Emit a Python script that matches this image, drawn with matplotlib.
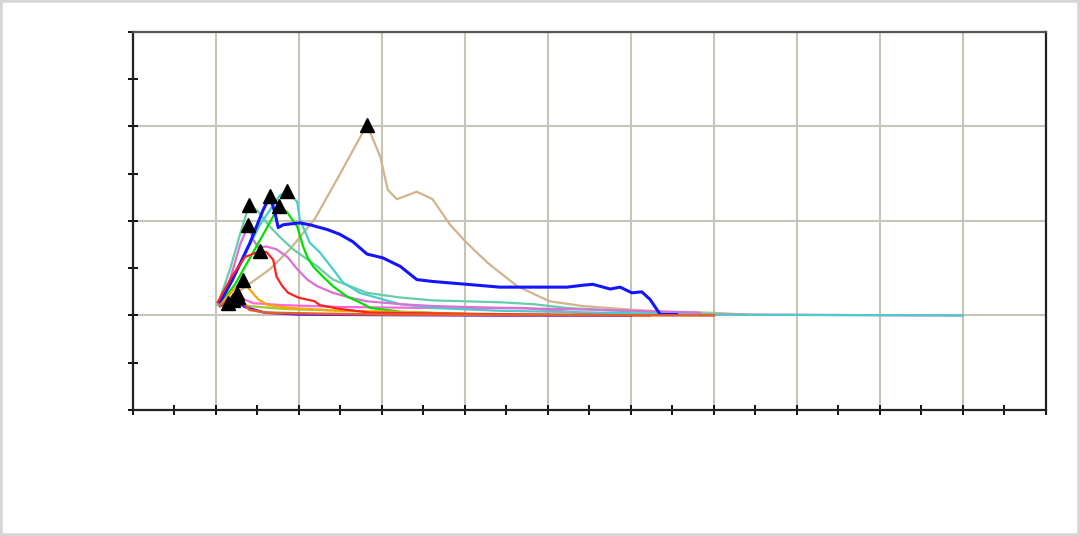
"""Peak-marked response curves on a bare grid (no tick labels). Agg, out.png."""
import matplotlib
matplotlib.use("Agg")
import matplotlib.pyplot as plt  # noqa: E402
import numpy as np  # noqa: E402
from matplotlib.patches import Rectangle  # noqa: E402

# series values: (x, y) per curve
tan_x = [1.05, 1.35, 1.65, 1.89, 2.19, 2.49, 2.82, 2.88, 2.98, 3.07, 3.18, 3.42, 3.61,
         3.82, 4.02, 4.27, 4.63, 5.02, 5.42, 6.02, 6.43, 6.95, 7.40]
tan_y = [0.11, 0.30, 0.49, 0.70, 1.02, 1.49, 2.02, 1.89, 1.68, 1.33, 1.23, 1.31, 1.23,
         0.96, 0.77, 0.56, 0.31, 0.15, 0.10, 0.06, 0.04, 0.03, 0.01]

blue_x = [1.05, 1.20, 1.41, 1.57, 1.65, 1.71, 1.75, 1.81, 2.01, 2.13, 2.34, 2.49, 2.65,
          2.82, 3.01, 3.22, 3.42, 3.61, 4.02, 4.42, 5.23, 5.42, 5.54, 5.75, 5.87, 6.01,
          6.13, 6.23, 6.33, 6.35, 6.55]
blue_y = [0.14, 0.38, 0.77, 1.12, 1.26, 1.09, 0.93, 0.96, 0.98, 0.96, 0.91, 0.86, 0.78,
          0.65, 0.61, 0.52, 0.38, 0.36, 0.33, 0.30, 0.30, 0.32, 0.33, 0.28, 0.30, 0.24,
          0.25, 0.17, 0.04, 0.01, 0.01]

cyan_x = [1.05, 1.29, 1.53, 1.77, 1.86, 1.98, 2.01, 2.13, 2.25, 2.41, 2.53, 2.73, 3.01,
          3.22, 3.61, 4.42, 5.63, 6.83, 10.0]
cyan_y = [0.12, 0.54, 0.96, 1.27, 1.32, 1.20, 1.02, 0.77, 0.67, 0.49, 0.35, 0.24, 0.17,
          0.12, 0.08, 0.05, 0.03, 0.01, 0.0]

aqua_x = [1.02, 1.17, 1.29, 1.40, 1.51, 1.63, 1.77, 1.93, 2.22, 2.41, 2.82, 3.22, 3.61,
          4.02, 4.42, 4.82, 5.23, 5.83, 6.43, 7.07]
aqua_y = [0.11, 0.49, 0.86, 1.17, 1.10, 0.96, 0.83, 0.70, 0.52, 0.38, 0.24, 0.19, 0.16,
          0.15, 0.14, 0.12, 0.08, 0.05, 0.03, 0.01]

green_x = [1.05, 1.23, 1.41, 1.59, 1.76, 1.86, 1.98, 2.05, 2.10, 2.17, 2.29, 2.41, 2.58,
           2.73, 2.86, 3.22, 3.82]
green_y = [0.12, 0.33, 0.61, 0.89, 1.16, 1.09, 0.94, 0.73, 0.62, 0.52, 0.41, 0.31, 0.20,
           0.14, 0.08, 0.04, 0.02]

orchid_x = [1.05, 1.17, 1.29, 1.39, 1.45, 1.51, 1.61, 1.73, 1.86, 1.98, 2.10, 2.22, 2.41,
            2.61, 2.82, 3.22, 3.61, 4.42, 5.02, 5.63, 6.83]
orchid_y = [0.12, 0.38, 0.75, 0.96, 0.80, 0.72, 0.73, 0.70, 0.62, 0.49, 0.38, 0.31, 0.24,
            0.19, 0.15, 0.12, 0.10, 0.08, 0.07, 0.06, 0.03]

red_x = [1.02, 1.19, 1.35, 1.53, 1.61, 1.69, 1.73, 1.80, 1.87, 1.99, 2.19, 2.25, 2.49,
         2.86, 3.82, 5.02, 6.23]
red_y = [0.14, 0.41, 0.62, 0.68, 0.67, 0.59, 0.41, 0.31, 0.24, 0.19, 0.15, 0.11, 0.07,
         0.03, 0.02, 0.01, 0.0]

orange_x = [1.05, 1.32, 1.41, 1.51, 1.63, 1.89, 2.50, 3.50, 4.00]
orange_y = [0.11, 0.38, 0.27, 0.17, 0.11, 0.08, 0.05, 0.03, 0.02]

purple_x = [1.05, 1.20, 1.35, 1.59, 2.00, 3.00, 4.50, 6.00]
purple_y = [0.10, 0.16, 0.09, 0.03, 0.01, 0.005, 0.0, 0.0]

pink_x = [1.05, 1.26, 1.45, 1.80, 2.50, 3.50, 4.70, 5.50, 7.00, 10.0]
pink_y = [0.11, 0.20, 0.13, 0.11, 0.09, 0.08, 0.08, 0.02, 0.01, 0.0]

ygreen_x = [1.05, 1.14, 1.40, 1.80, 2.50, 3.50]
ygreen_y = [0.10, 0.13, 0.10, 0.07, 0.05, 0.03]

brick_x = [1.05, 1.25, 1.40, 1.60, 2.20, 3.00, 5.00, 7.00]
brick_y = [0.10, 0.24, 0.06, 0.03, 0.02, 0.01, 0.005, 0.0]

SERIES = [
    (tan_x, tan_y, "#d2b48c", 1.6),
    (pink_x, pink_y, "#ff66dd", 1.6),
    (aqua_x, aqua_y, "#66cdaa", 1.6),
    (cyan_x, cyan_y, "#48cdc8", 1.6),
    (orchid_x, orchid_y, "#da70d6", 1.6),
    (green_x, green_y, "#00e000", 1.6),
    (blue_x, blue_y, "#1414ff", 2.2),
    (ygreen_x, ygreen_y, "#9acd32", 1.6),
    (orange_x, orange_y, "#ffa500", 1.6),
    (red_x, red_y, "#ff2020", 1.6),
    (purple_x, purple_y, "#6a10e0", 1.8),
    (brick_x, brick_y, "#e0602a", 1.8),
]

fig = plt.figure(figsize=(10.8, 5.36), dpi=100)
ax = fig.add_axes([0.1231, 0.2351, 0.8454, 0.7052])

for xs, ys, col, lw in SERIES:
    ax.plot(xs, ys, "-", color=col, lw=lw, zorder=2)
for xs, ys, col, lw in SERIES:
    i = int(np.argmax(ys))
    ax.plot([xs[i]], [ys[i]], "^", color="black", ms=10, zorder=4)

ax.set_xlim(0, 11)
ax.set_ylim(-1, 3)
ax.set_xticks(np.arange(0, 12, 1))
ax.set_xticks(np.arange(0.5, 11, 1), minor=True)
ax.set_yticks(np.arange(-1, 4, 1))
ax.set_yticks(np.arange(-0.5, 3, 1), minor=True)
ax.grid(True, which="major", color="#c6c6b8", lw=1.5, zorder=0)
ax.tick_params(which="both", direction="inout", length=7, width=1.4, color="#111",
               labelbottom=False, labelleft=False, top=False, right=False)
for sp in ax.spines.values():
    sp.set_linewidth(1.6)
    sp.set_color("#222")
ax.spines["top"].set_color("#555")

fig.patches.append(Rectangle((0, 0), 1, 1, transform=fig.transFigure, fill=False,
                             edgecolor="#d6d6d6", lw=4))
fig.savefig("out.png", dpi=100)
